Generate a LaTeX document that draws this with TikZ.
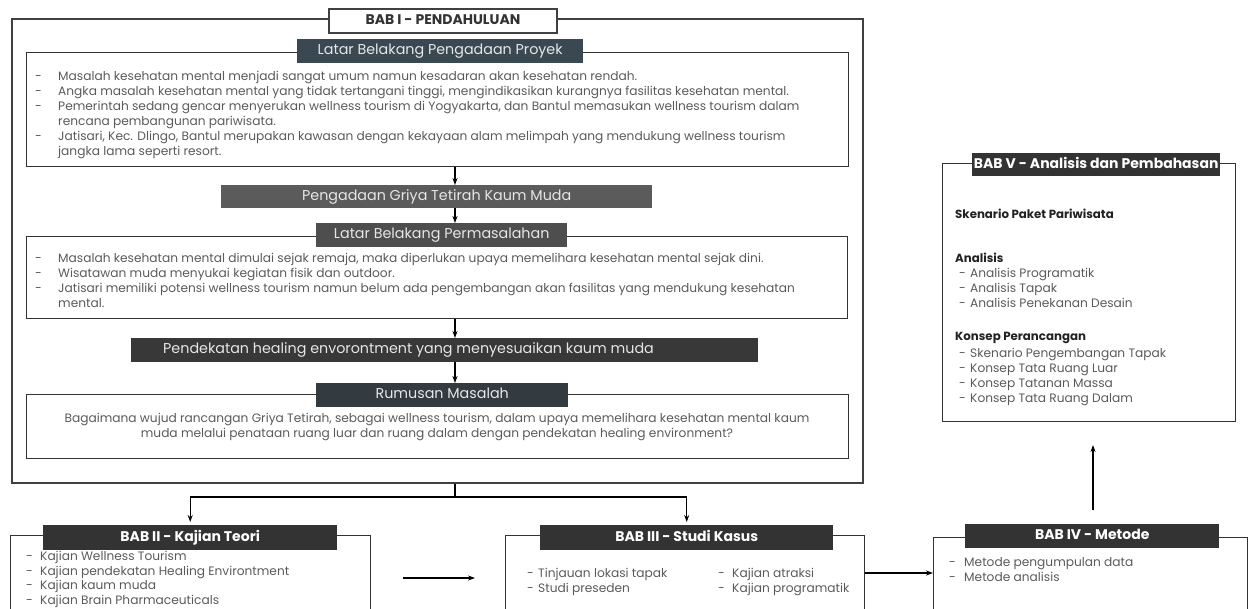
\documentclass[tikz,border=0pt]{standalone}
\usepackage{fontspec}
\setmainfont{Poppins}
\usetikzlibrary{arrows.meta}
\definecolor{framec}{HTML}{404040}
\definecolor{boxc}{HTML}{333333}
\definecolor{hcA}{HTML}{3A4852}
\definecolor{hcB}{HTML}{5B5B5B}
\definecolor{hcC}{HTML}{4E4E4E}
\definecolor{hcD}{HTML}{383838}
\definecolor{hcE}{HTML}{343B40}
\definecolor{babc}{HTML}{333333}
\definecolor{hdrtxt}{HTML}{E6E6E6}
\definecolor{txtc}{HTML}{5A5A5A}
\definecolor{lblc}{HTML}{222222}
\tikzset{
 framebox/.style={draw=framec, line width=2.2pt, inner sep=0pt, anchor=north west},
 boxx/.style={draw=boxc, line width=1.3pt, inner sep=0pt, anchor=north west},
 hdr/.style={text=hdrtxt, inner sep=0pt, anchor=north west, text height=10pt, text depth=3pt, font=\fontsize{14.3}{16}\selectfont},
 babhdr/.style={fill=babc, text=white, inner sep=0pt, anchor=north west, text height=10pt, text depth=3pt, font=\bfseries\fontsize{14}{16}\selectfont},
 titlebox/.style={fill=white, draw=framec, line width=2pt, text=boxc, inner sep=0pt, anchor=north west, text height=10pt, text depth=3pt, font=\bfseries\fontsize{14}{16}\selectfont},
 body/.style={text=txtc, inner sep=0pt, anchor=north west, align=left, font=\fontsize{12.2}{14.8}\selectfont},
 lbl/.style={text=lblc, inner sep=0pt, anchor=north west, align=left, font=\bfseries\fontsize{11.8}{14}\selectfont},
 arr/.style={-{Stealth[length=7pt,width=5pt]}, line width=1.1pt},
 conn/.style={line width=1.1pt},
}
\newcommand{\dsh}[1]{\makebox[#1][l]{-}}
\begin{document}
\begin{tikzpicture}[x=1pt,y=-1pt]
\useasboundingbox (0,0) rectangle (1249,608);
\clip (0,0) rectangle (1249,608);

% ---------- BAB I ----------
\node[framebox, minimum width=851pt, minimum height=464pt] (bab1) at (11,18) {};
\node[titlebox, minimum width=228pt, minimum height=24pt] (bab1t) at (328,8) {BAB I - PENDAHULUAN};

\node[boxx, minimum width=822pt, minimum height=114pt] (b1) at (26,52) {};
\node[hdr, fill=hcA, minimum width=286pt, minimum height=24pt] (h1) at (297,39) {Latar Belakang Pengadaan Proyek};
\node[body, font=\fontsize{12.2}{15}\selectfont] (t1) at (35,71.3) {\dsh{23pt}Masalah kesehatan mental menjadi sangat umum namun kesadaran akan kesehatan rendah.\\
\dsh{23pt}Angka masalah kesehatan mental yang tidak tertangani tinggi, mengindikasikan kurangnya fasilitas kesehatan mental.\\
\dsh{23pt}Pemerintah sedang gencar menyerukan wellness tourism di Yogyakarta, dan Bantul memasukan wellness tourism dalam\\
\hspace*{23pt}rencana pembangunan pariwisata.\\
\dsh{23pt}Jatisari, Kec. Dlingo, Bantul merupakan kawasan dengan kekayaan alam melimpah yang mendukung wellness tourism\\
\hspace*{23pt}jangka lama seperti resort.};

\node[hdr, fill=hcB, minimum width=431pt, minimum height=23pt] (bar1) at (221,185) {Pengadaan Griya Tetirah Kaum Muda};

\node[boxx, minimum width=821pt, minimum height=82pt] (b2) at (26,236) {};
\node[hdr, fill=hcC, minimum width=251pt, minimum height=24pt] (h2a) at (316,223) {Latar Belakang Permasalahan};
\node[body, font=\fontsize{12.2}{15}\selectfont] (t2) at (35,253.3) {\dsh{23pt}Masalah kesehatan mental dimulai sejak remaja, maka diperlukan upaya memelihara kesehatan mental sejak dini.\\
\dsh{23pt}Wisatawan muda menyukai kegiatan fisik dan outdoor.\\
\dsh{23pt}Jatisari memiliki potensi wellness tourism namun belum ada pengembangan akan fasilitas yang mendukung kesehatan\\
\hspace*{23pt}mental.};

\node[hdr, fill=hcD, minimum width=627pt, minimum height=24pt] (bar2) at (131,338) {\makebox[627pt][l]{\hspace*{32pt}Pendekatan healing envorontment yang menyesuaikan kaum muda}};

\node[boxx, minimum width=822pt, minimum height=64pt] (b3) at (26,394) {};
\node[hdr, fill=hcE, minimum width=252pt, minimum height=24pt] (h3a) at (316,383) {Rumusan Masalah};
\node[body, align=center, anchor=north, font=\fontsize{12.2}{14.5}\selectfont] (t3) at (437,413.3) {Bagaimana wujud rancangan Griya Tetirah, sebagai wellness tourism, dalam upaya memelihara kesehatan mental kaum\\
muda melalui penataan ruang luar dan ruang dalam dengan pendekatan healing environment?};

\coordinate (spine) at (455,0);
\draw[arr] (b1.south -| spine) -- (bar1.north -| spine);
\draw[arr] (bar1.south -| spine) -- (h2a.north -| spine);
\draw[arr] (b2.south -| spine) -- (bar2.north -| spine);
\draw[arr] (bar2.south -| spine) -- (h3a.north -| spine);

% ---------- BAB II ----------
\node[boxx, minimum width=360pt, minimum height=100pt] (bab2) at (10,535) {};
\node[babhdr, minimum width=294pt, minimum height=25pt] (h2) at (43,525) {BAB II - Kajian Teori};
\node[body, font=\fontsize{12.2}{14.5}\selectfont] (t4) at (26,551.3) {\dsh{14pt}Kajian Wellness Tourism\\
\dsh{14pt}Kajian pendekatan Healing Environtment\\
\dsh{14pt}Kajian kaum muda\\
\dsh{14pt}Kajian Brain Pharmaceuticals};

% ---------- BAB III ----------
\node[boxx, minimum width=359pt, minimum height=100pt] (bab3) at (505,535) {};
\node[babhdr, minimum width=293pt, minimum height=25pt] (h3) at (540,525) {BAB III - Studi Kasus};
\node[body] (t5) at (527,568.3) {\dsh{11pt}Tinjauan lokasi tapak\\
\dsh{11pt}Studi preseden};
\node[body] (t6) at (718,568.3) {\dsh{14pt}Kajian atraksi\\
\dsh{14pt}Kajian programatik};

% ---------- BAB IV ----------
\node[boxx, minimum width=314pt, minimum height=100pt] (bab4) at (933,537) {};
\node[babhdr, minimum width=254pt, minimum height=24pt] (h4) at (965,524) {BAB IV - Metode};
\node[body] (t7) at (949,557.3) {\dsh{15pt}Metode pengumpulan data\\
\dsh{15pt}Metode analisis};

% ---------- BAB V ----------
\node[boxx, minimum width=293pt, minimum height=258pt] (bab5) at (942,163) {};
\node[babhdr, minimum width=248pt, minimum height=23pt] (h5) at (972,153) {BAB V - Analisis dan Pembahasan};
\node[lbl] (l1) at (955,208.5) {Skenario Paket Pariwisata};
\node[lbl] (l2) at (955,252.5) {Analisis};
\node[body, font=\fontsize{12.2}{15}\selectfont] (t8) at (959,268.3) {\dsh{11pt}Analisis Programatik\\
\dsh{11pt}Analisis Tapak\\
\dsh{11pt}Analisis Penekanan Desain};
\node[lbl] (l3) at (955,332.5) {Konsep Perancangan};
\node[body, font=\fontsize{12.2}{15}\selectfont] (t9) at (959,348.3) {\dsh{11pt}Skenario Pengembangan Tapak\\
\dsh{11pt}Konsep Tata Ruang Luar\\
\dsh{11pt}Konsep Tatanan Massa\\
\dsh{11pt}Konsep Tata Ruang Dalam};

% ---------- connectors ----------
\coordinate (split) at (455,497);
\draw[conn] (bab1.south -| split) -- (split);
\draw[arr, shorten >=3pt] (split) -| (h2.north);
\draw[arr, shorten >=3pt] (split) -| (h3.north);
\coordinate (a23s) at (403,578);
\coordinate (a23e) at (475,578);
\draw[arr] (a23s) -- (a23e);
\coordinate (a34) at (0,573);
\draw[arr] (bab3.east |- a34) -- (bab4.west |- a34);
\coordinate (a45s) at (1093,510);
\coordinate (a45e) at (1093,445);
\draw[arr] (a45s) -- (a45e);
\end{tikzpicture}
\end{document}
